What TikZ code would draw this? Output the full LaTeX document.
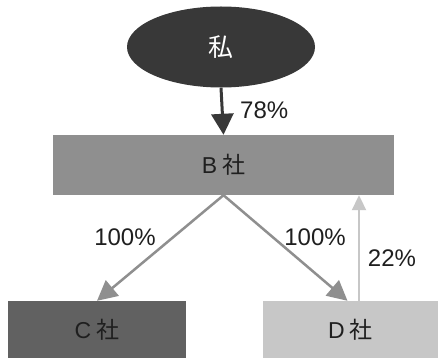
\documentclass[tikz,border=0pt]{standalone}
\usepackage{fontspec}
\setmainfont{Liberation Sans}
\newfontfamily\cjk{Noto Sans CJK JP}
\usetikzlibrary{arrows.meta,shapes.geometric}
\definecolor{ellc}{gray}{0.22}
\definecolor{bc}{gray}{0.56}
\definecolor{cc}{gray}{0.38}
\definecolor{dc}{gray}{0.78}
\definecolor{txt}{gray}{0.12}
\tikzset{
  box/.style={rectangle, draw=none, inner sep=0pt, font=\fontsize{23}{25}\selectfont, text=txt},
  lbl/.style={font=\fontsize{24}{26}\selectfont, text=txt, inner sep=0pt},
  arr/.style={line width=3pt, -{Triangle[width=22pt,length=21pt]}},
}
\begin{document}
\begin{tikzpicture}[x=1pt,y=-1pt]
\useasboundingbox[fill=white] (0,0) rectangle (438,358);
\node[ellipse, fill=ellc, minimum width=188, minimum height=81, inner sep=0pt,
      text=white, font=\fontsize{25}{27}\selectfont\cjk] (me) at (221,47) {私};
\node[box, fill=bc, minimum width=341, minimum height=60] (B) at (223.5,165) {B\hspace{5pt}{\cjk 社}};
\node[box, fill=cc, minimum width=178, minimum height=57] (C) at (97,329.5) {C\hspace{5pt}{\cjk 社}};
\node[box, fill=dc, minimum width=175, minimum height=57] (D) at (350.5,329.5) {D\hspace{5pt}{\cjk 社}};
\draw[arr, draw=ellc, fill=ellc] (me.south) -- (B.north);
\draw[arr, line width=2.5pt, draw=bc, fill=bc, -{Triangle[width=20pt,length=20pt]}] (B.south) -- (C.north);
\draw[arr, line width=2.5pt, draw=bc, fill=bc, -{Triangle[width=20pt,length=20pt]}] (B.south) -- ([xshift=-3pt]D.north);
\draw[line width=2pt, draw=dc, -{Triangle[width=14pt,length=15pt,fill=dc]}] ([xshift=8.5pt]D.north) -- ([xshift=8.5pt]D.north |- B.south);
\node[lbl, anchor=west] (l78) at (240,110) {78\%};
\node[lbl] (l100a) at (125,237) {100\%};
\node[lbl] (l100b) at (315,237) {100\%};
\node[lbl] (l22) at (392,258) {22\%};
\end{tikzpicture}
\end{document}
